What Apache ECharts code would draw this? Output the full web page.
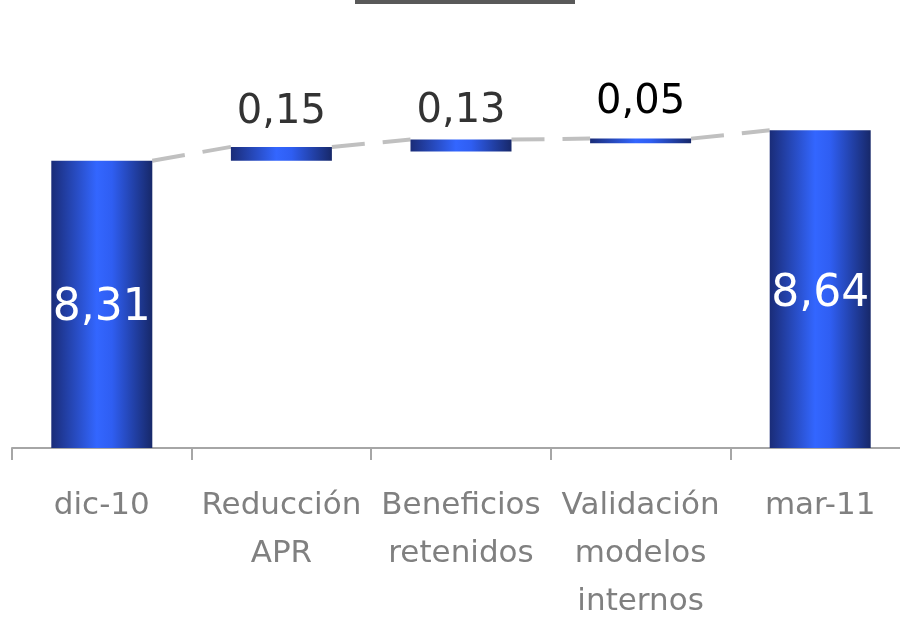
<!DOCTYPE html>
<html>
<head>
<meta charset="utf-8">
<script src="https://cdn.jsdelivr.net/npm/echarts@6/dist/echarts.min.js"></script>
<style>
html,body{margin:0;padding:0;background:#fff;}
#capital{width:900px;height:619px;}
</style>
</head>
<body>
<div id="capital"></div>
<script>
var categories = ['dic-10', 'Reducción\nAPR', 'Beneficios\nretenidos', 'Validación\nmodelos\ninternos', 'mar-11'];
var changes = [8.31, 0.15, 0.13, 0.05, 8.64];
var offsets = [0, 8.31, 8.41, 8.50, 0];   // hidden bases
var valueLabels = ['8,31', '0,15', '0,13', '0,05', '8,64'];

(function(){
    var chart = echarts.init(document.getElementById('capital'));
    var barW = 101, catW = 898 / categories.length;
    var hw = barW / catW / 2;

    var barColor = new echarts.graphic.LinearGradient(0, 0, 1, 0, [
        {offset: 0, color: '#1a2c78'},
        {offset: 0.45, color: '#3366ff'},
        {offset: 0.6, color: '#2f5ef2'},
        {offset: 1, color: '#172869'}
    ]);

    var tops = changes.map(function(v, i){ return offsets[i] + v; });

    var labelStyle = function(i){
        if (i === 0 || i === categories.length - 1) {
            return {show: true, position: 'inside', color: '#fff', fontSize: 44,
                    offset: [0, i === 0 ? 4 : 5],
                    fontFamily: 'DejaVu Sans', formatter: valueLabels[i]};
        }
        var dist = [0, 14, 8, 16][i];
        return {show: true, position: 'top', distance: dist,
                color: i === 3 ? '#000' : '#333', fontSize: 40,
                fontFamily: 'DejaVu Sans', formatter: valueLabels[i]};
    };

    var links = [];
    for (var i = 0; i < categories.length - 1; i++) {
        links.push({
            type: 'line',
            xAxisIndex: 1,
            symbol: 'none',
            silent: true,
            z: 1,
            lineStyle: {color: '#c0c0c0', width: 4, type: [33, 18], cap: 'butt'},
            data: [[i + hw, tops[i]], [i + 1 - hw, tops[i + 1]]]
        });
    }

    var option = {
        animation: false,
        graphic: [{
            type: 'rect',
            shape: {x: 355, y: 0, width: 220, height: 4},
            style: {fill: '#595959'}
        }],
        grid: {left: 12, top: 0, width: 898, height: 448, outerBoundsMode: 'none'},
        xAxis: [{
            type: 'category',
            data: categories,
            axisLine: {lineStyle: {color: '#a6a6a6', width: 2}},
            axisTick: {show: true, length: 12, lineStyle: {color: '#a6a6a6', width: 2}},
            axisLabel: {color: '#808080', fontSize: 31, fontFamily: 'DejaVu Sans',
                        lineHeight: 48, margin: 34, interval: 0}
        }, {
            type: 'value', min: -0.5, max: 4.5, show: false
        }],
        yAxis: {
            type: 'value', min: 5.18, max: 10.06, show: false,
            splitLine: {show: false}
        },
        series: [{
            name: 'base',
            type: 'bar',
            stack: 'w',
            barWidth: barW,
            itemStyle: {color: 'transparent'},
            data: offsets
        }, {
            name: 'valor',
            type: 'bar',
            stack: 'w',
            barWidth: barW,
            z: 3,
            itemStyle: {color: barColor},
            data: changes.map(function(v, i){
                return {value: v, label: labelStyle(i)};
            })
        }].concat(links)
    };

    chart.setOption(option);
})();
</script>
</body>
</html>
